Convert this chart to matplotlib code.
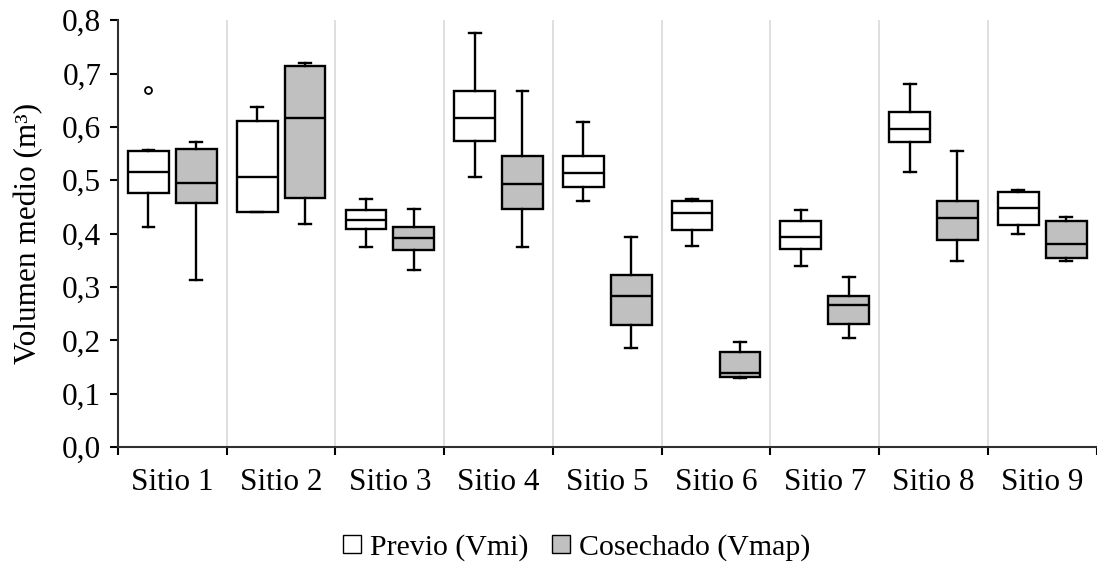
import matplotlib.pyplot as plt
from matplotlib.lines import Line2D
from matplotlib.ticker import FuncFormatter

plt.rcParams['font.family'] = ['Liberation Serif', 'DejaVu Serif']

sites = ['Sitio 1', 'Sitio 2', 'Sitio 3', 'Sitio 4', 'Sitio 5',
         'Sitio 6', 'Sitio 7', 'Sitio 8', 'Sitio 9']

# Previo (Vmi)
prev_lo = [0.413, 0.440, 0.375, 0.506, 0.461, 0.377, 0.339, 0.516, 0.399]
prev_q1 = [0.477, 0.440, 0.408, 0.573, 0.487, 0.407, 0.372, 0.571, 0.417]
prev_med = [0.516, 0.506, 0.425, 0.616, 0.514, 0.438, 0.393, 0.596, 0.449]
prev_q3 = [0.555, 0.611, 0.444, 0.668, 0.545, 0.461, 0.423, 0.628, 0.478]
prev_hi = [0.556, 0.638, 0.465, 0.777, 0.609, 0.465, 0.444, 0.681, 0.482]
prev_out = [[0.670], [], [], [], [], [], [], [], []]

# Cosechado (Vmap)
cos_lo = [0.313, 0.418, 0.332, 0.375, 0.185, 0.130, 0.204, 0.348, 0.348]
cos_q1 = [0.457, 0.466, 0.370, 0.446, 0.229, 0.132, 0.231, 0.389, 0.355]
cos_med = [0.495, 0.616, 0.392, 0.493, 0.284, 0.138, 0.267, 0.430, 0.381]
cos_q3 = [0.558, 0.714, 0.412, 0.545, 0.322, 0.178, 0.283, 0.461, 0.423]
cos_hi = [0.571, 0.719, 0.446, 0.668, 0.393, 0.197, 0.319, 0.555, 0.432]


def stats(lo, q1, med, q3, hi, out=None):
    res = []
    for i in range(len(lo)):
        res.append({'whislo': lo[i], 'q1': q1[i], 'med': med[i], 'q3': q3[i],
                    'whishi': hi[i], 'fliers': out[i] if out else []})
    return res


fs = 22.5
fig = plt.figure(figsize=(10.97, 5.63), dpi=100)
ax = fig.add_axes([0.1076, 0.206, 0.892, 0.758])

centers = [i + 0.5 for i in range(len(sites))]
lw = 1.7
common = dict(widths=0.375, capwidths=0.11, patch_artist=True, showfliers=True,
              medianprops=dict(color='black', linewidth=lw),
              whiskerprops=dict(color='black', linewidth=lw),
              capprops=dict(color='black', linewidth=lw),
              flierprops=dict(marker='o', markersize=5, markerfacecolor='white',
                              markeredgecolor='black', markeredgewidth=1.3))

ax.bxp(stats(prev_lo, prev_q1, prev_med, prev_q3, prev_hi, prev_out),
       positions=[c - 0.22 for c in centers],
       boxprops=dict(facecolor='white', edgecolor='black', linewidth=lw), **common)
ax.bxp(stats(cos_lo, cos_q1, cos_med, cos_q3, cos_hi),
       positions=[c + 0.22 for c in centers],
       boxprops=dict(facecolor='#c0c0c0', edgecolor='black', linewidth=lw), **common)

# separators between sites
for b in range(1, len(sites)):
    ax.axvline(b, color='#d9d9d9', linewidth=1.2, zorder=0)

ax.set_xlim(0, len(sites))
ax.set_ylim(0, 0.8)
ax.set_xticks(range(len(sites) + 1))
ax.set_xticklabels([])
ax.set_xticks(centers, minor=True)
ax.set_xticklabels(sites, minor=True, fontsize=fs)
ax.tick_params(axis='x', which='minor', length=0, pad=15)
ax.tick_params(axis='x', which='major', length=6, width=1.5, direction='out')
ax.set_yticks([i / 10 for i in range(9)])
ax.yaxis.set_major_formatter(FuncFormatter(lambda v, p: f'{v:.1f}'.replace('.', ',')))
ax.tick_params(axis='y', length=6, width=1.5, labelsize=fs, pad=6)
ax.set_ylabel('Volumen medio (m³)', fontsize=fs, labelpad=14)

for s in ['top', 'right']:
    ax.spines[s].set_visible(False)
for s in ['left', 'bottom']:
    ax.spines[s].set_linewidth(1.5)
    ax.spines[s].set_color('#303030')

handles = [Line2D([], [], marker='s', linestyle='none', markersize=13,
                  markerfacecolor='white', markeredgecolor='black', markeredgewidth=1),
           Line2D([], [], marker='s', linestyle='none', markersize=13,
                  markerfacecolor='#c0c0c0', markeredgecolor='black', markeredgewidth=1)]
fig.legend(handles, ['Previo (Vmi)', 'Cosechado (Vmap)'], loc='center',
           bbox_to_anchor=(0.523, 0.028), ncol=2, frameon=False, fontsize=21.5,
           handletextpad=0.1, columnspacing=0.6, handlelength=1.0,
           borderpad=0, borderaxespad=0)

fig.savefig('out.png', dpi=100)
